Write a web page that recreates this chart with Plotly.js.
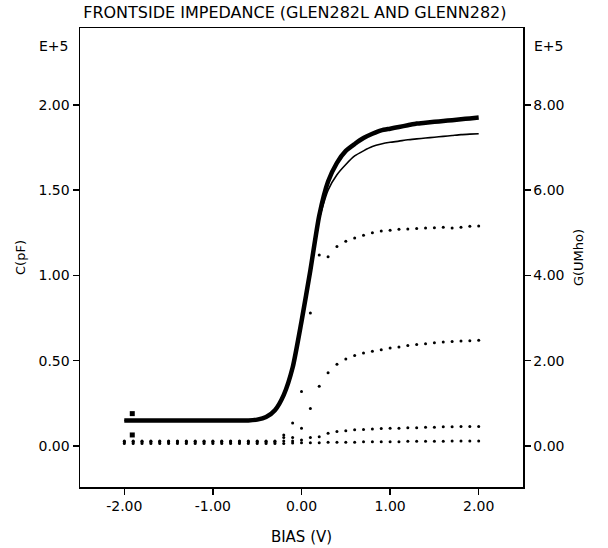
<!DOCTYPE html>
<html>
<head>
<meta charset="utf-8">
<script src="https://cdn.plot.ly/plotly-3.0.1.min.js"></script>
<style>html,body{margin:0;padding:0;background:#fff;}#chart{width:608px;height:548px;}</style>
</head>
<body>
<div id="chart"></div>
<script>
// Bias voltage (V)
const bias = [-2.0,-1.9,-1.8,-1.7,-1.6,-1.5,-1.4,-1.3,-1.2,-1.1,-1.0,-0.9,-0.8,-0.7,-0.6,-0.5,-0.4,-0.3,-0.2,-0.1,
  0.0,0.1,0.2,0.3,0.4,0.5,0.6,0.7,0.8,0.9,1.0,1.1,1.2,1.3,1.4,1.5,1.6,1.7,1.8,1.9,2.0];

// Capacitance C (pF, E+5) - thick curve
const cThick = [0.150,0.150,0.150,0.150,0.150,0.150,0.150,0.150,0.150,0.150,0.150,0.150,0.150,0.150,0.150,0.155,0.170,0.210,0.300,0.460,
  0.730,1.030,1.350,1.550,1.660,1.730,1.770,1.805,1.830,1.850,1.860,1.870,1.880,1.890,1.895,1.900,1.905,1.910,1.915,1.920,1.925];

// Capacitance C (pF, E+5) - thin curve
const cThin = [0.150,0.150,0.150,0.150,0.150,0.150,0.150,0.150,0.150,0.150,0.150,0.150,0.150,0.150,0.150,0.155,0.170,0.210,0.300,0.460,
  0.730,1.030,1.330,1.500,1.590,1.650,1.700,1.730,1.755,1.770,1.780,1.787,1.795,1.800,1.805,1.810,1.815,1.820,1.825,1.828,1.830];

// Conductance G (UMho, E+5) - dotted series
const gA = [0.10,0.10,0.10,0.10,0.10,0.10,0.10,0.10,0.10,0.10,0.10,0.10,0.10,0.10,0.10,0.10,0.10,0.10,0.26,0.54,
  1.28,3.12,4.48,4.44,4.68,4.80,4.88,4.94,5.00,5.04,5.06,5.08,5.09,5.10,5.11,5.12,5.13,5.11,5.13,5.15,5.16];
const gB = [0.10,0.10,0.10,0.10,0.10,0.10,0.10,0.10,0.10,0.10,0.10,0.10,0.10,0.10,0.10,0.10,0.10,0.10,0.20,0.20,
  0.42,0.88,1.40,1.72,1.92,2.04,2.12,2.18,2.22,2.26,2.30,2.32,2.36,2.38,2.40,2.42,2.44,2.45,2.46,2.47,2.48];
const gC = [0.12,0.12,0.12,0.12,0.12,0.12,0.12,0.12,0.12,0.12,0.12,0.12,0.12,0.12,0.12,0.12,0.12,0.12,0.12,0.12,
  0.14,0.20,0.22,0.30,0.34,0.36,0.38,0.39,0.40,0.41,0.42,0.42,0.43,0.43,0.44,0.44,0.45,0.45,0.46,0.46,0.46];
const gD = [0.06,0.06,0.06,0.06,0.06,0.06,0.06,0.06,0.06,0.06,0.06,0.06,0.06,0.06,0.06,0.06,0.06,0.06,0.06,0.07,
  0.08,0.08,0.08,0.09,0.09,0.09,0.09,0.10,0.10,0.10,0.10,0.10,0.11,0.11,0.11,0.11,0.11,0.12,0.12,0.12,0.12];

// Start markers near the left end
const markBias = [-1.91, -1.91];
const markC = [0.19, 0.065];

// Tick labels
const xTickVals = [-2, -1, 0, 1, 2];
const xTickText = ["-2.00", "-1.00", "0.00", "1.00", "2.00"];
const yTickVals = [0, 0.5, 1, 1.5, 2];
const yTickText = ["0.00", "0.50", "1.00", "1.50", "2.00"];
const y2TickVals = [0, 2, 4, 6, 8];
const y2TickText = ["0.00", "2.00", "4.00", "6.00", "8.00"];

const FONT = "DejaVu Sans, Arial, sans-serif";
const dot = (y) => ({x: bias, y: y, yaxis: 'y2', mode: 'markers', type: 'scatter',
  marker: {size: 3, color: '#000', symbol: 'circle'}, showlegend: false, hoverinfo: 'skip'});

const traces = [
  dot(gD), dot(gC), dot(gB), dot(gA),
  {x: bias, y: cThin, mode: 'lines', type: 'scatter', line: {color: '#000', width: 1.6, shape: 'spline', smoothing: 0.6}, showlegend: false},
  {x: bias, y: cThick, mode: 'lines', type: 'scatter', line: {color: '#000', width: 4.5, shape: 'spline', smoothing: 0.6}, showlegend: false},
  {x: markBias, y: markC, mode: 'markers', type: 'scatter', marker: {symbol: 'square', size: 5, color: '#000'}, showlegend: false}
];

const axisCommon = {
  showline: true, linecolor: '#000', linewidth: 1.5, ticks: 'outside', ticklen: 6, tickwidth: 1.5, tickcolor: '#000',
  showgrid: false, zeroline: false, tickfont: {family: FONT, size: 14, color: '#000'}
};

const layout = {
  width: 608, height: 548,
  margin: {l: 80, r: 85, t: 28, b: 61},
  paper_bgcolor: '#fff', plot_bgcolor: '#fff',
  font: {family: FONT, color: '#000'},
  title: {text: 'FRONTSIDE IMPEDANCE (GLEN282L AND GLENN282)', font: {family: FONT, size: 16, color: '#000'},
    x: 0.485, xref: 'paper', xanchor: 'center', y: 0.977, yref: 'container', yanchor: 'middle'},
  xaxis: Object.assign({}, axisCommon, {range: [-2.5, 2.5], tickmode: 'array', tickvals: xTickVals, ticktext: xTickText, mirror: true,
    title: {text: 'BIAS (V)', font: {family: FONT, size: 15, color: '#000'}, standoff: 18}}),
  yaxis: Object.assign({}, axisCommon, {range: [-0.24, 2.45], tickmode: 'array', tickvals: yTickVals, ticktext: yTickText, mirror: true,
    title: {text: 'C(pF)', font: {family: FONT, size: 13, color: '#000'}, standoff: 10}}),
  yaxis2: Object.assign({}, axisCommon, {range: [-0.96, 9.8], overlaying: 'y', side: 'right', tickmode: 'array', tickvals: y2TickVals, ticktext: y2TickText,
    title: {text: 'G(UMho)', font: {family: FONT, size: 13, color: '#000'}, standoff: 10}}),
  annotations: [
    {text: 'E+5', xref: 'paper', yref: 'paper', x: -0.023, y: 0.96, xanchor: 'right', yanchor: 'middle', showarrow: false, font: {family: FONT, size: 14, color: '#000'}},
    {text: 'E+5', xref: 'paper', yref: 'paper', x: 1.02, y: 0.96, xanchor: 'left', yanchor: 'middle', showarrow: false, font: {family: FONT, size: 14, color: '#000'}}
  ]
};

Plotly.newPlot('chart', traces, layout, {displayModeBar: false, staticPlot: true});
</script>
</body>
</html>
